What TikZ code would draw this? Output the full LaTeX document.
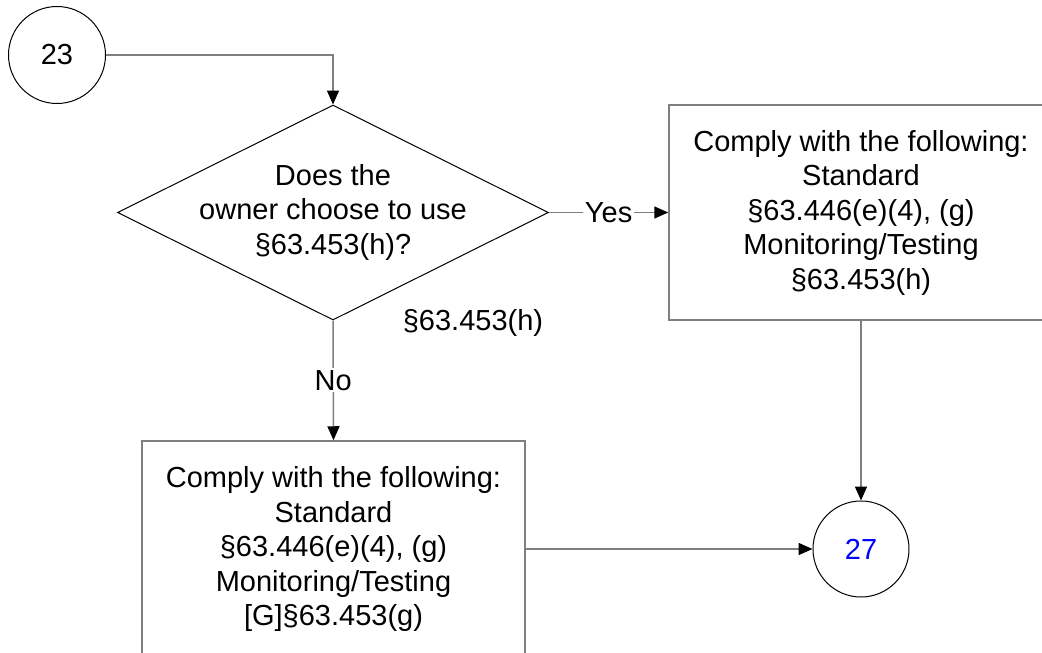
\documentclass[tikz,border=0pt]{standalone}
\usepackage{fontspec}
\setmainfont{Liberation Sans}
\usetikzlibrary{shapes.geometric,arrows.meta}
\definecolor{linegray}{HTML}{7F7F7F}
\definecolor{numblue}{HTML}{0000FF}
\tikzset{
  txt/.style={font=\fontsize{29}{34.5}\selectfont, align=center, inner sep=0pt},
  conn/.style={draw=linegray, line width=1.5pt, -{Triangle[length=14pt,width=12pt,color=black]}},
  circ/.style={circle, draw=black, line width=1pt, minimum size=97pt, inner sep=0pt, font=\fontsize{29}{34.5}\selectfont},
  procbox/.style={rectangle, draw=linegray, line width=1.5pt, minimum width=384pt, minimum height=215pt, txt},
  decis/.style={diamond, draw=black, line width=1pt, minimum width=431pt, minimum height=215pt, inner sep=0pt},
  lbl/.style={fill=white, inner sep=2pt, font=\fontsize{29}{34.5}\selectfont},
}
\begin{document}
\begin{tikzpicture}[x=1pt,y=-1pt]
\useasboundingbox (0,0) rectangle (1042,653);
\clip (0,0) rectangle (1042,653);
\fill[white] (0,0) rectangle (1042,653);
\node[circ] (c23) at (57,55) {23};
\node[decis] (dia) at (333,212.5) {};
\node[txt] (diatext) at (333,212) {Does the\\owner choose to use\\§63.453(h)?};
\node[procbox] (rbox) at (861,212.5) {Comply with the following:\\Standard\\§63.446(e)(4), (g)\\Monitoring/Testing\\§63.453(h)};
\node[procbox, minimum width=383pt, minimum height=216pt] (bbox) at (333.5,549) {Comply with the following:\\Standard\\§63.446(e)(4), (g)\\Monitoring/Testing\\{[G]§63.453(g)}};
\node[circ, minimum size=96pt, text=numblue] (c27) at (861,549) {27};
\node[txt] (hlbl) at (473,323) {§63.453(h)};
\draw[conn] (c23.east) -| (dia.north);
\draw[conn] (dia.east) -- node[lbl] (yes) {Yes} (rbox.west);
\draw[conn] (dia.south) -- node[lbl] (no) {No} (bbox.north);
\draw[conn] (rbox.south) -- (c27.north);
\draw[conn] (bbox.east) -- (c27.west);
\end{tikzpicture}
\end{document}
